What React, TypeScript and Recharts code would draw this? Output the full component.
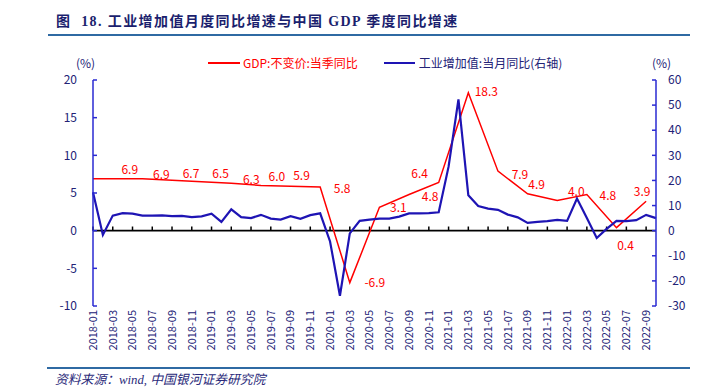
import { LineChart, Line, XAxis, YAxis, ReferenceLine, LabelList } from "recharts";

const MONTHS = [
  "2018-01", "2018-02", "2018-03", "2018-04", "2018-05", "2018-06", "2018-07", "2018-08", "2018-09", "2018-10", "2018-11", "2018-12",
  "2019-01", "2019-02", "2019-03", "2019-04", "2019-05", "2019-06", "2019-07", "2019-08", "2019-09", "2019-10", "2019-11", "2019-12",
  "2020-01", "2020-02", "2020-03", "2020-04", "2020-05", "2020-06", "2020-07", "2020-08", "2020-09", "2020-10", "2020-11", "2020-12",
  "2021-01", "2021-02", "2021-03", "2021-04", "2021-05", "2021-06", "2021-07", "2021-08", "2021-09", "2021-10", "2021-11", "2021-12",
  "2022-01", "2022-02", "2022-03", "2022-04", "2022-05", "2022-06", "2022-07", "2022-08", "2022-09", "2022-10",
];

// 工业增加值:当月同比 (右轴)
const IVA_YOY = [
  15.3, -1.7, 6.0, 7.0, 6.8, 6.0, 6.0, 6.1, 5.8, 5.9, 5.4, 5.7,
  6.8, 3.5, 8.5, 5.4, 5.0, 6.3, 4.8, 4.4, 5.8, 4.7, 6.2, 6.9,
  -4.3, -25.9, -1.1, 3.9, 4.4, 4.8, 4.8, 5.6, 6.9, 6.9, 7.0, 7.3,
  25.5, 52.3, 14.1, 9.8, 8.8, 8.3, 6.4, 5.3, 3.1, 3.5, 3.8, 4.3,
  3.9, 12.8, 5.0, -2.9, 0.7, 3.9, 3.8, 4.2, 6.3, 5.0,
];

// GDP:不变价:当季同比 (左轴)
const GDP_MONTHS = [
  "2018-01", "2018-03", "2018-06", "2018-09", "2018-12", "2019-03", "2019-06", "2019-09", "2019-12",
  "2020-03", "2020-06", "2020-09", "2020-12", "2021-03", "2021-06", "2021-09", "2021-12",
  "2022-03", "2022-06", "2022-09",
];
const GDP_YOY = [
  6.9, 6.9, 6.9, 6.7, 6.5, 6.3, 6.0, 5.9, 5.8,
  -6.9, 3.1, 4.8, 6.4, 18.3, 7.9, 4.9, 4.0,
  4.8, 0.4, 3.9,
];

const LEFT_TICKS = [-10, -5, 0, 5, 10, 15, 20];
const RIGHT_TICKS = [-30, -20, -10, 0, 10, 20, 30, 40, 50, 60];

// where each red value label sits relative to its point (dx, dy in px)
const LABEL_NUDGE: Record<string, [number, number]> = {
  "2018-03": [17, -10], "2018-06": [19, -5], "2018-09": [19, -8], "2018-12": [19, -9],
  "2019-03": [20, -5], "2019-06": [16, -10], "2019-09": [11, -12], "2019-12": [22, 1],
  "2020-03": [25, -1], "2020-06": [19, -1], "2020-09": [21, 1], "2020-12": [-19, -10],
  "2021-03": [18, -2], "2021-06": [22, 2], "2021-09": [9, -10], "2021-12": [19, -10],
  "2022-03": [21, 0], "2022-06": [9, 17], "2022-09": [-4, -11],
};

const RED = "#ff0000";
const BLUE = "#1e14b4";
const AXIS_BLUE = "#2a2ad2";
const NAVY = "#222276";
const RULE = "#2f6aa3";
const FONT = '"Noto Sans CJK SC", "Microsoft YaHei", sans-serif';

const rows = MONTHS.map((month, i) => {
  const q = GDP_MONTHS.indexOf(month);
  return { month, iva: IVA_YOY[i], gdp: q >= 0 ? GDP_YOY[q] : null };
});

const zeroTicks = MONTHS.filter((_, i) => i % 2 === 0);

function GdpLabel(props: any) {
  const { value, index } = props;
  const x = props.x ?? props.viewBox?.x;
  const y = props.y ?? props.viewBox?.y;
  const nudge = LABEL_NUDGE[MONTHS[index]];
  if (value == null || !nudge || x == null) return null;
  return (
    <text
      x={x + nudge[0]}
      y={y + nudge[1]}
      textAnchor="middle"
      dominantBaseline="central"
      fill={RED}
      fontSize={12}
      fontFamily={FONT}
    >
      {Number(value).toFixed(1)}
    </text>
  );
}

function MonthTick({ x, y, payload }: any) {
  return (
    <text
      transform={`translate(${x},${y - 4}) rotate(-90)`}
      textAnchor="end"
      dy="0.35em"
      fill={NAVY}
      fontSize={11}
      fontFamily={FONT}
    >
      {payload.value}
    </text>
  );
}

export default function App() {
  return (
    <div style={{ position: "absolute", left: 0, top: 0, width: 702, height: 392, background: "#fff" }}>
      <div
        style={{
          position: "absolute", left: 56, top: 12, fontSize: 14, fontWeight: 700, letterSpacing: 1.4,
          color: "#1b1f6e", whiteSpace: "nowrap", lineHeight: "20px",
          fontFamily: '"Liberation Serif", "Noto Sans CJK SC", serif',
        }}
      >
        图&nbsp; 18. 工业增加值月度同比增速与中国 GDP 季度同比增速
      </div>
      <div style={{ position: "absolute", left: 48, top: 34, width: 642, height: 2, background: RULE }} />

      <div style={{ position: "absolute", left: 76, top: 55, fontSize: 12, color: NAVY, fontFamily: FONT, lineHeight: "16px" }}>(%)</div>
      <div style={{ position: "absolute", left: 652, top: 55, fontSize: 12, color: NAVY, fontFamily: FONT, lineHeight: "16px" }}>(%)</div>

      <div style={{ position: "absolute", left: 208, top: 55, display: "flex", alignItems: "center", fontSize: 12, fontFamily: FONT, lineHeight: "16px", whiteSpace: "nowrap" }}>
        <span style={{ display: "inline-block", width: 32, height: 2, background: RED, marginRight: 3 }} />
        <span style={{ color: RED }}>GDP:不变价:当季同比</span>
        <span style={{ display: "inline-block", width: 31, height: 2.5, background: BLUE, marginLeft: 26, marginRight: 4 }} />
        <span style={{ color: NAVY }}>工业增加值:当月同比(右轴)</span>
      </div>

      <LineChart width={702} height={392} data={rows} margin={{ top: 80, right: 6, bottom: 0, left: 53 }}>
        <XAxis
          dataKey="month"
          interval={1}
          axisLine={false}
          tickLine={false}
          height={86}
          tick={<MonthTick />}
        />
        <YAxis
          yAxisId="left"
          orientation="left"
          width={40}
          domain={[-10, 20]}
          ticks={LEFT_TICKS}
          allowDataOverflow
          axisLine={{ stroke: AXIS_BLUE, strokeWidth: 1.5 }}
          tickLine={{ stroke: AXIS_BLUE, strokeWidth: 1.5 }}
          tickSize={-4}
          tickMargin={20}
          tick={{ fill: NAVY, fontSize: 12, fontFamily: FONT }}
        />
        <YAxis
          yAxisId="right"
          orientation="right"
          width={40}
          domain={[-30, 60]}
          ticks={RIGHT_TICKS}
          allowDataOverflow
          axisLine={{ stroke: AXIS_BLUE, strokeWidth: 1.5 }}
          tickLine={{ stroke: AXIS_BLUE, strokeWidth: 1.5 }}
          tickSize={-4}
          tickMargin={16}
          tick={{ fill: NAVY, fontSize: 12, fontFamily: FONT, textAnchor: "start" }}
        />
        <ReferenceLine yAxisId="left" y={0} stroke="#000" strokeWidth={1.8} />
        {zeroTicks.map((m) => (
          <ReferenceLine
            key={m}
            yAxisId="left"
            segment={[{ x: m, y: 0 }, { x: m, y: 0.55 }]}
            stroke="#000"
            strokeWidth={1.5}
          />
        ))}
        <Line
          yAxisId="left"
          dataKey="gdp"
          stroke={RED}
          strokeWidth={1.5}
          dot={false}
          connectNulls
          isAnimationActive={false}
        >
          <LabelList dataKey="gdp" content={<GdpLabel />} />
        </Line>
        <Line
          yAxisId="right"
          dataKey="iva"
          stroke={BLUE}
          strokeWidth={2.2}
          dot={false}
          isAnimationActive={false}
        />
      </LineChart>

      <div style={{ position: "absolute", left: 47, top: 367, width: 643, height: 2, background: RULE }} />
      <div
        style={{
          position: "absolute", left: 55, top: 372, fontSize: 12.8, fontStyle: "italic", color: "#2a2a7a",
          whiteSpace: "nowrap", lineHeight: "16px", fontFamily: '"Liberation Serif", "Noto Sans CJK SC", serif',
        }}
      >
        资料来源：wind, 中国银河证券研究院
      </div>
    </div>
  );
}
